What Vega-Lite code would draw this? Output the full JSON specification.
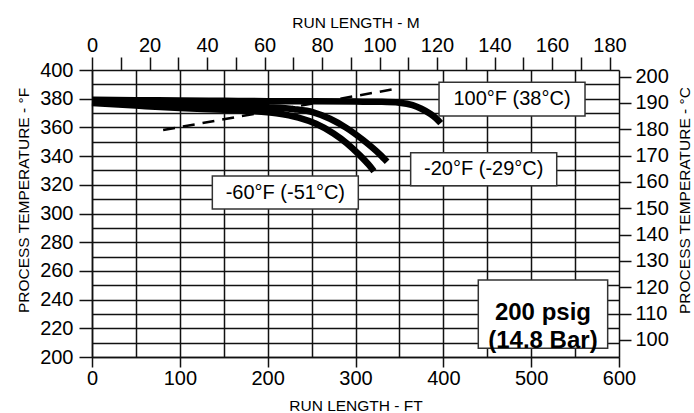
{
  "$schema": "https://vega.github.io/schema/vega-lite/v6.json",
  "width": 527,
  "height": 287,
  "autosize": {"type": "none"},
  "padding": {"left": 92, "top": 70, "right": 75, "bottom": 56},
  "background": "white",
  "config": {
    "font": "Liberation Sans",
    "view": {"stroke": null},
    "axis": {
      "labelFont": "Liberation Sans",
      "titleFont": "Liberation Sans",
      "labelColor": "black",
      "titleColor": "black",
      "labelFontSize": 20,
      "titleFontSize": 15.5,
      "titleFontWeight": "normal",
      "tickColor": "#111",
      "tickWidth": 1.5,
      "domainColor": "#111",
      "domainWidth": 1.5,
      "gridColor": "#111",
      "gridWidth": 1.5,
      "gridOpacity": 1,
      "labelOverlap": false,
      "labelFlush": false
    }
  },
  "layer": [
    {
      "encoding": {
        "x": {
          "field": "ft", "type": "quantitative",
          "scale": {"domain": [0, 600], "nice": false, "zero": false},
          "axis": {
            "orient": "bottom",
            "values": [0, 50, 100, 150, 200, 250, 300, 350, 400, 450, 500, 550, 600],
            "grid": true,
            "tickSize": 10,
            "tickOpacity": {"condition": {"test": "datum.value % 100 === 0", "value": 1}, "value": 0},
            "labelExpr": "datum.value % 100 === 0 ? datum.label : ''",
            "labelPadding": 1,
            "labelOverlap": false,
            "title": "RUN LENGTH - FT",
            "titleY": 53,
            "titleBaseline": "alphabetic"
          }
        },
        "y": {
          "field": "F", "type": "quantitative",
          "scale": {"domain": [200, 400], "nice": false, "zero": false},
          "axis": {
            "orient": "left",
            "values": [200, 210, 220, 230, 240, 250, 260, 270, 280, 290, 300, 310, 320, 330, 340, 350, 360, 370, 380, 390, 400],
            "grid": true,
            "tickSize": 13,
            "tickOpacity": {"condition": {"test": "datum.value % 20 === 0", "value": 1}, "value": 0},
            "labelExpr": "datum.value % 20 === 0 ? datum.label : ''",
            "labelPadding": 6,
            "labelOverlap": false,
            "title": "PROCESS TEMPERATURE - °F",
            "titleAngle": -90,
            "titleX": -64,
            "titleY": 130,
            "titleAlign": "center",
            "titleBaseline": "alphabetic"
          }
        }
      },
      "layer": [
        {
          "data": {"values": [{"ft": 81, "F": 358.2}, {"ft": 350, "F": 387.3}]},
          "mark": {"type": "line", "color": "black", "strokeWidth": 2.5, "strokeDash": [12, 8]}
        },
        {
          "data": {"values": [
            {"series": "100", "ft": 0, "F": 379.2},
            {"series": "100", "ft": 50, "F": 379.0},
            {"series": "100", "ft": 100, "F": 378.7},
            {"series": "100", "ft": 150, "F": 378.5},
            {"series": "100", "ft": 200, "F": 378.3},
            {"series": "100", "ft": 250, "F": 378.2},
            {"series": "100", "ft": 300, "F": 378.0},
            {"series": "100", "ft": 330, "F": 377.8},
            {"series": "100", "ft": 350, "F": 377.2},
            {"series": "100", "ft": 365, "F": 375.5},
            {"series": "100", "ft": 375, "F": 373.0},
            {"series": "100", "ft": 385, "F": 369.5},
            {"series": "100", "ft": 392, "F": 366.2},
            {"series": "100", "ft": 397, "F": 363.0},
            {"series": "-20", "ft": 0, "F": 378.0},
            {"series": "-20", "ft": 50, "F": 377.1},
            {"series": "-20", "ft": 100, "F": 376.0},
            {"series": "-20", "ft": 150, "F": 375.0},
            {"series": "-20", "ft": 200, "F": 374.0},
            {"series": "-20", "ft": 230, "F": 372.7},
            {"series": "-20", "ft": 252, "F": 370.5},
            {"series": "-20", "ft": 271, "F": 366.0},
            {"series": "-20", "ft": 290, "F": 359.5},
            {"series": "-20", "ft": 309, "F": 351.0},
            {"series": "-20", "ft": 328, "F": 341.0},
            {"series": "-20", "ft": 336, "F": 336.0},
            {"series": "-60", "ft": 0, "F": 377.0},
            {"series": "-60", "ft": 50, "F": 375.2},
            {"series": "-60", "ft": 100, "F": 373.5},
            {"series": "-60", "ft": 150, "F": 372.3},
            {"series": "-60", "ft": 180, "F": 371.4},
            {"series": "-60", "ft": 210, "F": 369.8},
            {"series": "-60", "ft": 235, "F": 366.8},
            {"series": "-60", "ft": 255, "F": 362.5},
            {"series": "-60", "ft": 275, "F": 355.8},
            {"series": "-60", "ft": 290, "F": 349.0},
            {"series": "-60", "ft": 305, "F": 340.5},
            {"series": "-60", "ft": 315, "F": 334.0},
            {"series": "-60", "ft": 321, "F": 329.5}
          ]},
          "mark": {"type": "line", "color": "black", "strokeWidth": 6.5, "strokeCap": "butt", "interpolate": "monotone"},
          "encoding": {
            "detail": {"field": "series"}
          }
        },
        {
          "data": {"values": [
            {"label": "100°F (38°C)", "ft": 395.1, "ft2": 561.3, "F": 367.9, "F2": 391.4},
            {"label": "-20°F (-29°C)", "ft": 362.8, "ft2": 529.1, "F": 319.4, "F2": 342.4},
            {"label": "-60°F (-51°C)", "ft": 137.0, "ft2": 303.2, "F": 303.1, "F2": 326.1},
            {"label": "200 psig", "ft": 439.8, "ft2": 587.1, "F": 206.1, "F2": 253.7}
          ]},
          "mark": {"type": "rect", "fill": "white", "stroke": "#333", "strokeWidth": 1.5},
          "encoding": {
            "x2": {"field": "ft2"},
            "y2": {"field": "F2"}
          }
        },
        {
          "data": {"values": [
            {"label": "100°F (38°C)", "ft": 478.2, "F": 379.65},
            {"label": "-20°F (-29°C)", "ft": 446.0, "F": 330.9},
            {"label": "-60°F (-51°C)", "ft": 220.1, "F": 314.6}
          ]},
          "mark": {"type": "text", "fontSize": 20, "color": "black", "align": "center", "baseline": "middle", "font": "Liberation Sans"},
          "encoding": {
            "text": {"field": "label"}
          }
        },
        {
          "data": {"values": [
            {"label": "200 psig|(14.8 Bar)", "ft": 513.4, "F": 230.9}
          ]},
          "mark": {"type": "text", "fontSize": 24, "fontWeight": "bold", "lineHeight": 28, "lineBreak": "|", "color": "black", "align": "center", "baseline": "middle", "font": "Liberation Sans"},
          "encoding": {
            "text": {"field": "label"}
          }
        }
      ]
    },
    {
      "data": {"values": [{"m": 0, "C": 100}]},
      "mark": {"type": "point", "opacity": 0},
      "encoding": {
        "x": {
          "field": "m", "type": "quantitative",
          "scale": {"domain": [0, 183.3], "nice": false, "zero": false},
          "axis": {
            "orient": "top",
            "values": [0, 10, 20, 30, 40, 50, 60, 70, 80, 90, 100, 110, 120, 130, 140, 150, 160, 170, 180],
            "grid": false,
            "domain": false,
            "tickSize": 13,
            "labelExpr": "datum.value % 20 === 0 ? datum.label : ''",
            "labelPadding": 2,
            "title": "RUN LENGTH - M",
            "titleY": -43,
            "titleBaseline": "alphabetic"
          }
        },
        "y": {
          "field": "C", "type": "quantitative",
          "scale": {"domain": [93.5, 202.5], "nice": false, "zero": false},
          "axis": {
            "orient": "right",
            "values": [100, 110, 120, 130, 140, 150, 160, 170, 180, 190, 200],
            "grid": false,
            "domain": false,
            "tickSize": 12,
            "labelPadding": 4,
            "title": "PROCESS TEMPERATURE - °C",
            "titleAngle": -90,
            "titleX": 70,
            "titleY": 130,
            "titleAlign": "center",
            "titleBaseline": "alphabetic"
          }
        }
      }
    }
  ],
  "resolve": {"scale": {"x": "independent", "y": "independent"}}
}
